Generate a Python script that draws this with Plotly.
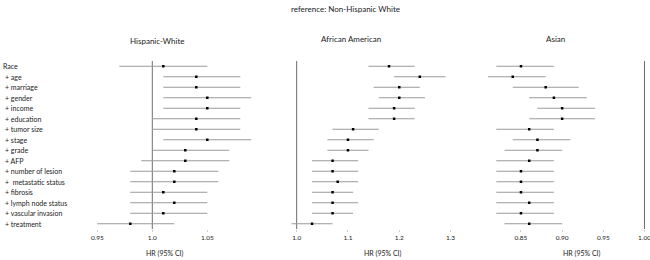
import plotly.graph_objects as go

# ---------------- data ----------------
row_labels = ["Race", "+ age", "+ marriage", "+ gender", "+ income", "+ education",
              "+ tumor size", "+ stage", "+ grade", "+ AFP", "+ number of lesion",
              "+  metastatic status", "+ fibrosis", "+ lymph node status",
              "+ vascular invasion", "+ treatment"]

panel_titles = ["Hispanic-White", "African American", "Asian"]
main_title = "reference: Non-Hispanic White"
x_title = "HR (95% CI)"

hw_hr = [1.01, 1.04, 1.04, 1.05, 1.05, 1.04, 1.04, 1.05, 1.03, 1.03, 1.02, 1.02, 1.01, 1.02, 1.01, 0.98]
hw_lo = [0.97, 1.01, 1.01, 1.01, 1.01, 1.00, 1.00, 1.01, 1.00, 0.99, 0.98, 0.98, 0.98, 0.98, 0.98, 0.95]
hw_hi = [1.05, 1.08, 1.08, 1.09, 1.08, 1.08, 1.08, 1.09, 1.07, 1.07, 1.06, 1.06, 1.05, 1.05, 1.05, 1.02]

aa_hr = [1.18, 1.24, 1.20, 1.20, 1.19, 1.19, 1.11, 1.10, 1.10, 1.07, 1.07, 1.08, 1.07, 1.07, 1.07, 1.03]
aa_lo = [1.14, 1.19, 1.15, 1.16, 1.14, 1.14, 1.07, 1.06, 1.06, 1.03, 1.03, 1.03, 1.03, 1.03, 1.03, 0.99]
aa_hi = [1.23, 1.29, 1.24, 1.25, 1.23, 1.23, 1.16, 1.15, 1.14, 1.12, 1.12, 1.12, 1.11, 1.12, 1.11, 1.07]

as_hr = [0.85, 0.84, 0.88, 0.89, 0.90, 0.90, 0.86, 0.87, 0.87, 0.86, 0.85, 0.85, 0.85, 0.86, 0.85, 0.86]
as_lo = [0.82, 0.81, 0.84, 0.86, 0.87, 0.86, 0.82, 0.84, 0.83, 0.82, 0.82, 0.82, 0.82, 0.82, 0.82, 0.83]
as_hi = [0.89, 0.88, 0.92, 0.93, 0.94, 0.94, 0.89, 0.91, 0.90, 0.89, 0.89, 0.89, 0.89, 0.89, 0.89, 0.90]

hw_ticks = [0.95, 1.0, 1.05]
hw_ticktext = ["0.95", "1.0", "1.05"]
aa_ticks = [1.0, 1.1, 1.2, 1.3]
aa_ticktext = ["1.0", "1.1", "1.2", "1.3"]
as_ticks = [0.85, 0.90, 0.95, 1.00]
as_ticktext = ["0.85", "0.90", "0.95", "1.00"]

ref_value = 1.0

# ---------------- figure ----------------
W, H = 650, 260
M_T, M_B = 61, 31
FONT = "Lato"
CI_COLOR = "#9a9a9a"
REF_COLOR = "#6e6e6e"
TXT = "#222222"

rows = list(range(len(row_labels)))
n = len(row_labels)

fig = go.Figure()
panels = [
    ("x", hw_hr, hw_lo, hw_hi),
    ("x2", aa_hr, aa_lo, aa_hi),
    ("x3", as_hr, as_lo, as_hi),
]
for xa, hr, lo, hi in panels:
    # null reference line at HR = 1
    fig.add_trace(go.Scatter(
        x=[ref_value, ref_value], y=[-0.5, n - 0.5], xaxis=xa, yaxis="y", mode="lines",
        line=dict(color=REF_COLOR, width=1), showlegend=False, hoverinfo="skip",
    ))
    fig.add_trace(go.Scatter(
        x=hr, y=rows, xaxis=xa, yaxis="y", mode="markers",
        marker=dict(symbol="square", size=2.5, color="black"),
        error_x=dict(type="data", symmetric=False,
                     array=[h - m for h, m in zip(hi, hr)],
                     arrayminus=[m - l for m, l in zip(hr, lo)],
                     width=0, color=CI_COLOR, thickness=1.1),
        showlegend=False, hoverinfo="skip", cliponaxis=False,
    ))

def px(v):
    return v / W

def py(v):
    # pixel y (from top of figure) -> paper y (plot area based)
    return (H - M_B - v) / (H - M_T - M_B)

axis_common = dict(showgrid=False, zeroline=False, showline=False, ticks="outside",
                   ticklen=2, tickcolor="#cccccc", ticklabeloverflow="allow",
                   tickfont=dict(size=6.5, color=TXT, family=FONT),
                   anchor="y", fixedrange=True)

fig.update_layout(
    width=W, height=H,
    margin=dict(l=0, r=0, t=M_T, b=M_B),
    paper_bgcolor="white", plot_bgcolor="white",
    font=dict(family=FONT, color=TXT),
    xaxis=dict(domain=[px(86.3), px(262.3)], range=[0.94, 1.10],
               tickvals=hw_ticks, ticktext=hw_ticktext, **axis_common),
    xaxis2=dict(domain=[px(286.4), px(455.7)], range=[0.98, 1.31],
                tickvals=aa_ticks, ticktext=aa_ticktext, **axis_common),
    xaxis3=dict(domain=[px(479.8), 1.0], range=[0.80, 1.00668],
                tickvals=as_ticks, ticktext=as_ticktext, **axis_common),
    yaxis=dict(range=[n - 0.5, -0.5], visible=False, fixedrange=True),
)

# row labels
for i, lab in enumerate(row_labels):
    fig.add_annotation(text=lab, x=px(1 if i == 0 else 3), y=i, xref="paper", yref="y",
                       xanchor="left", yanchor="middle", showarrow=False,
                       font=dict(size=7, family=FONT, color=TXT))

# titles
fig.add_annotation(text=main_title, x=px(346), y=py(9), xref="paper", yref="paper",
                   xanchor="center", yanchor="middle", showarrow=False,
                   font=dict(size=8, family=FONT, color=TXT))
for t, cx, cy in zip(panel_titles, [157.5, 351, 555], [41.5, 39, 39]):
    fig.add_annotation(text=t, x=px(cx), y=py(cy), xref="paper", yref="paper",
                       xanchor="center", yanchor="middle", showarrow=False,
                       font=dict(size=8, family=FONT, color=TXT))
for cx in [165, 383, 582]:
    fig.add_annotation(text=x_title, x=px(cx), y=py(253), xref="paper", yref="paper",
                       xanchor="center", yanchor="middle", showarrow=False,
                       font=dict(size=7, family=FONT, color=TXT))

fig.write_html("out.html", config={"displayModeBar": False},
               post_script="document.body.style.margin='0';document.body.style.overflow='hidden';")
